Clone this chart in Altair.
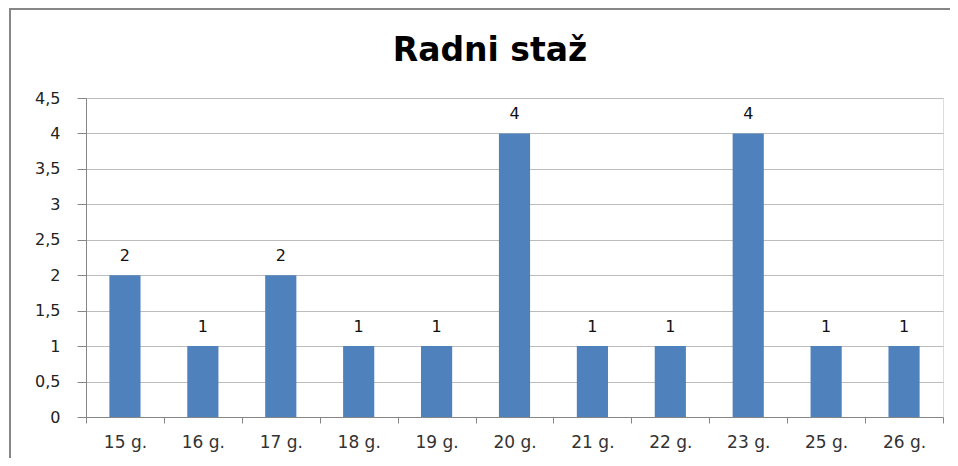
import altair as alt
import pandas as pd

categories = ["15 g.", "16 g.", "17 g.", "18 g.", "19 g.", "20 g.", "21 g.", "22 g.", "23 g.", "25 g.", "26 g."]
values = [2, 1, 2, 1, 1, 4, 1, 1, 4, 1, 1]
y_ticks = [0, 0.5, 1, 1.5, 2, 2.5, 3, 3.5, 4, 4.5]
title_text = "Radni staž"

df = pd.DataFrame({"kat": categories, "val": values})
one = pd.DataFrame({"t": [title_text]})

FONT = "DejaVu Sans"
W, H = 857, 319

x = alt.X("kat:N", sort=categories,
          scale=alt.Scale(paddingInner=0, paddingOuter=0),
          axis=alt.Axis(title=None, labelAngle=0, tickBand="extent", ticks=True,
                        tickSize=6, tickColor="#868686", domainColor="#868686",
                        labelPadding=11, labelFont=FONT, labelFontSize=17,
                        labelColor="#333333", grid=False))
y = alt.Y("val:Q", scale=alt.Scale(domain=[0, 4.5], nice=False),
          axis=alt.Axis(title=None, values=y_ticks, tickSize=9, tickColor="#868686",
                        domainColor="#868686", gridColor="#bcbcbc",
                        labelExpr="replace(format(datum.value, '~g'), '.', ',')",
                        labelPadding=17, labelFont=FONT, labelFontSize=16,
                        labelColor="#222222"))

bars = alt.Chart(df).mark_bar(color="#4F81BD", width=alt.RelativeBandSize(0.4)).encode(x=x, y=y)
labels = alt.Chart(df).mark_text(font=FONT, fontSize=16, color="#111111",
                                 baseline="alphabetic", dy=-14).encode(
    x=x, y=y, text="val:Q")

title = alt.Chart(one).mark_text(font=FONT, fontSize=33, fontWeight="bold", color="#000000",
                                 baseline="alphabetic", align="center").encode(
    x=alt.value(404), y=alt.value(-37), text="t:N")

border_left = alt.Chart(one).mark_rule(color="#878787", strokeWidth=2).encode(
    x=alt.value(-76), y=alt.value(-90), y2=alt.value(H + 45))
border_top = alt.Chart(one).mark_rule(color="#878787", strokeWidth=2).encode(
    x=alt.value(-76), x2=alt.value(W + 10), y=alt.value(-89))

chart = alt.layer(bars, labels, title, border_left, border_top).properties(
    width=W, height=H,
    autosize=alt.AutoSizeParams(type="none"),
    padding={"left": 78, "top": 90, "right": 7, "bottom": 41},
).configure_view(stroke=None).configure(background="white")

chart.save("out.html", embed_options={"renderer": "svg", "actions": False})
